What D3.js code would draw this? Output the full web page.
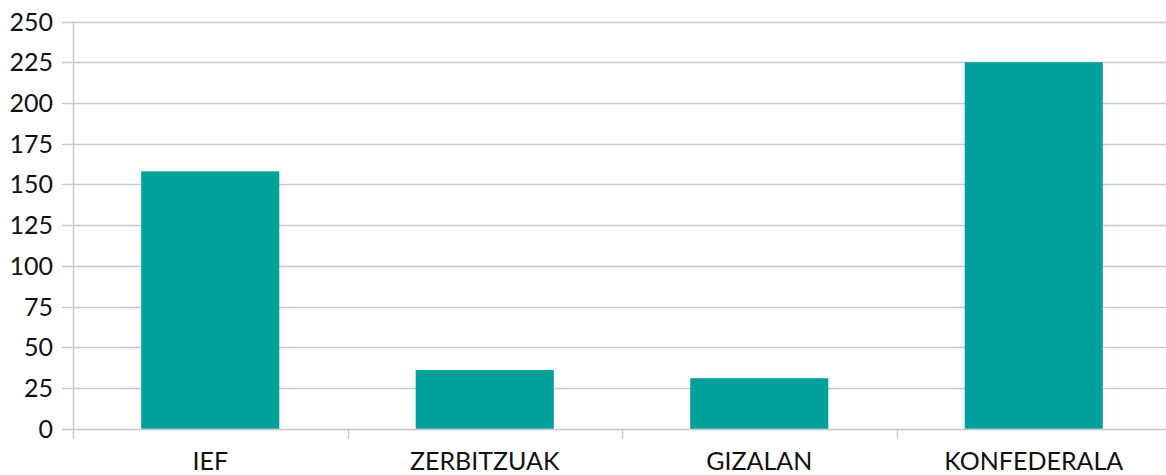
<!DOCTYPE html>
<html>
<head>
<meta charset="utf-8">
<script src="https://cdn.jsdelivr.net/npm/d3@7"></script>
<style>
  body { margin: 0; background: #fff; overflow: hidden; }
  svg { display: block; }
</style>
</head>
<body>
<svg id="chart"></svg>
<script>
// categories + values
var categories = ["IEF", "ZERBITZUAK", "GIZALAN", "KONFEDERALA"];
var values = [158, 36, 31, 225];
var yTicks = [0, 25, 50, 75, 100, 125, 150, 175, 200, 225, 250];

var width = 1166;
var height = 475;

// plot area (right side runs a little past the window)
var plotLeft = 73, plotRight = 1171, plotTop = 21.5, plotBottom = 428.7;

var svg = d3.select("#chart")
  .attr("width", width)
  .attr("height", height);

var x = d3.scaleBand()
  .domain(categories)
  .range([plotLeft, plotRight])
  .paddingInner(0.497)
  .paddingOuter(0.2485);

var y = d3.scaleLinear()
  .domain([0, 250])
  .range([plotBottom, plotTop]);

var font = "Lato, 'Open Sans', sans-serif";
var gridColor = "#c8c8c8";

// horizontal gridlines
svg.append("g")
  .selectAll("line")
  .data(yTicks)
  .enter()
  .append("line")
  .attr("x1", plotLeft - 11)
  .attr("x2", width)
  .attr("y1", d => Math.round(y(d)) + 0.5)
  .attr("y2", d => Math.round(y(d)) + 0.5)
  .attr("stroke", gridColor)
  .attr("stroke-width", 1.5);

// y tick labels
svg.append("g")
  .selectAll("text")
  .data(yTicks)
  .enter()
  .append("text")
  .attr("x", plotLeft - 20)
  .attr("y", d => y(d))
  .attr("dy", "0.36em")
  .attr("text-anchor", "end")
  .attr("font-family", font)
  .attr("font-size", "25px")
  .attr("fill", "#111")
  .text(d => d);

// bars
svg.append("g")
  .selectAll("rect")
  .data(values)
  .enter()
  .append("rect")
  .attr("x", (d, i) => x(categories[i]))
  .attr("width", x.bandwidth())
  .attr("y", d => y(d))
  .attr("height", d => y(0) - y(d))
  .attr("fill", "#00a19a");

// vertical axis line
svg.append("line")
  .attr("x1", plotLeft + 0.5)
  .attr("x2", plotLeft + 0.5)
  .attr("y1", plotTop)
  .attr("y2", plotBottom + 10)
  .attr("stroke", gridColor)
  .attr("stroke-width", 1.5);

// category separators below baseline
var step = x.step();
svg.append("g")
  .selectAll("line")
  .data(d3.range(1, categories.length))
  .enter()
  .append("line")
  .attr("x1", i => Math.round(plotLeft + i * step) + 0.5)
  .attr("x2", i => Math.round(plotLeft + i * step) + 0.5)
  .attr("y1", plotBottom)
  .attr("y2", plotBottom + 10)
  .attr("stroke", gridColor)
  .attr("stroke-width", 1.5);

// category labels
svg.append("g")
  .selectAll("text")
  .data(categories)
  .enter()
  .append("text")
  .attr("x", d => x(d) + x.bandwidth() / 2)
  .attr("y", 470)
  .attr("text-anchor", "middle")
  .attr("font-family", font)
  .attr("font-size", "25px")
  .attr("fill", "#111")
  .text(d => d);
</script>
</body>
</html>
